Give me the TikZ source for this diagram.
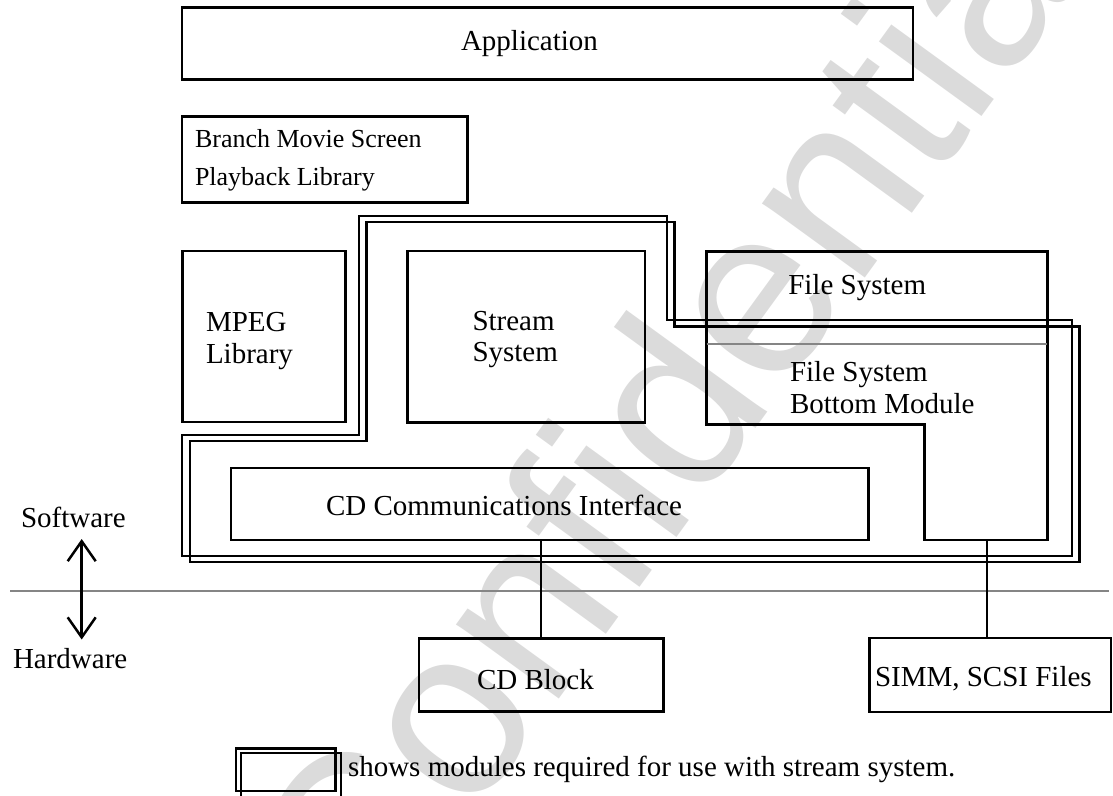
\documentclass[tikz,border=0pt]{standalone}
\usepackage{fontspec}
\setmainfont{Liberation Serif}
\newfontfamily\wmfont{Liberation Sans}
\usetikzlibrary{arrows.meta}
\begin{document}
\begin{tikzpicture}[x=1pt,y=-1pt,
  box/.style={draw, line width=2.6pt, inner sep=0pt, outer sep=0pt},
  txt/.style={inner sep=0pt, outer sep=0pt, anchor=base west, font=\fontsize{29}{33}\selectfont},
  smalltxt/.style={txt, font=\fontsize{26}{30}\selectfont},
  dbl/.style={draw, line width=2.3pt, line join=miter},
  conn/.style={draw, line width=2.3pt},
  sep/.style={draw, line width=2.2pt, black!48},
  wm/.style={inner sep=0pt, anchor=base west, text=black!14, font=\wmfont\fontsize{240}{240}\selectfont}]
\useasboundingbox (0,0) rectangle (1113,795);
% watermark
\node[wm, rotate=54] (wmark) at (369,961) {Confidential};
% boxes
\node[box, minimum width=731pt, minimum height=72pt] (app) at (547.5,43.3) {};
\node[box, minimum width=285.5pt, minimum height=85.8pt] (branch) at (324.8,159.6) {};
\node[box, minimum width=163.4pt, minimum height=171pt] (mpeg) at (264,336.5) {};
\node[box, minimum width=237.7pt, minimum height=171.3pt] (stream) at (526.2,336.7) {};
\node[box, minimum width=637.3pt, minimum height=72pt] (cdi) at (549.7,504) {};
\node[box, minimum width=244.6pt, minimum height=73.4pt] (cdblock) at (541.3,675) {};
\node[box, minimum width=241.5pt, minimum height=74pt] (simm) at (990.3,675) {};
% file system shape
\coordinate (f1) at (706.7,251.7);
\coordinate (f2) at (1047.3,251.7);
\coordinate (f3) at (1047.3,540);
\coordinate (f4) at (924.7,540);
\coordinate (f5) at (924.7,424.5);
\coordinate (f6) at (706.7,424.5);
\draw[line width=2.6pt, line join=miter] (f1) -- (f2) -- (f3) -- (f4) -- (f5) -- (f6) -- cycle;
\coordinate (d1) at (706.7,344);
\coordinate (d2) at (1047.3,344);
\draw[line width=2pt, black!48] (d1) -- (d2);
% double outline (stream system modules)
\foreach \dx/\dy in {0/0, 7.8/6.3} {
  \draw[dbl, shift={(\dx,\dy)}] (358.7,215.7) -- (666.7,215.7) -- (666.7,320.3) -- (1071.7,320.3)
     -- (1071.7,556) -- (182.3,556) -- (182.3,435) -- (358.7,435) -- cycle;
}
% hardware / software separator
\coordinate (s1) at (10,590.7);
\coordinate (s2) at (1109,590.7);
\draw[sep] (s1) -- (s2);
% connectors
\coordinate (fsb) at (987,540);
\draw[conn] (cdblock.north) -- (cdblock.north |- cdi.south);
\draw[conn] (fsb) -- (fsb |- simm.north);
% texts
\node[txt] (tapp) at (461,50) {Application};
\node[smalltxt] (tbr1) at (195,147.7) {Branch Movie Screen};
\node[smalltxt] (tbr2) at (195,185) {Playback Library};
\node[txt] (tmp1) at (206,331.7) {MPEG};
\node[txt] (tmp2) at (206,363.4) {Library};
\node[txt] (tst1) at (472.5,330) {Stream};
\node[txt] (tst2) at (472.5,361.7) {System};
\node[txt] (tfs) at (788.3,294) {File System};
\node[txt] (tfb1) at (790,381) {File System};
\node[txt] (tfb2) at (790,413) {Bottom Module};
\node[txt] (tcdi) at (326,515) {CD Communications Interface};
\node[txt] (tcdb) at (477,689) {CD Block};
\node[txt] (tsim) at (875,686) {SIMM, SCSI Files};
\node[txt] (tsw) at (21,527) {Software};
\node[txt] (thw) at (13,668) {Hardware};
% software/hardware arrow
\coordinate (aup) at (81.7,539);
\coordinate (adn) at (81.7,639.5);
\draw[line width=2.5pt, {Straight Barb[length=20pt,width=28pt]}-{Straight Barb[length=20pt,width=28pt]}] (aup) -- (adn);
% legend
\node[draw, line width=2.3pt, minimum width=99.3pt, minimum height=42.7pt, inner sep=0pt] (leg1) at (285.7,769.7) {};
\node[draw, line width=2.3pt, minimum width=99.7pt, minimum height=44pt, inner sep=0pt] (leg2) at (290.8,775.3) {};
\node[txt] (tleg) at (348,776.7) {shows modules required for use with stream system.};
\end{tikzpicture}
\end{document}
